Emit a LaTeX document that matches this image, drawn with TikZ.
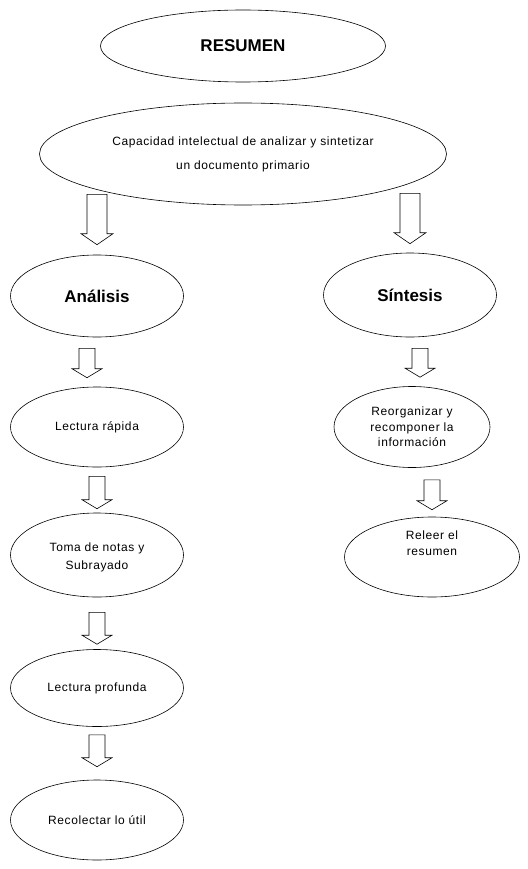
\documentclass[tikz,border=0pt]{standalone}
\usepackage{fontspec}
\setmainfont{Liberation Sans}
\newfontfamily\textoesp{Liberation Sans}[LetterSpace=5]
\usetikzlibrary{shapes.geometric,calc}

\tikzset{
  elipse/.style={draw, ellipse, line width=0.6pt, inner sep=0pt, align=center,
    font=\textoesp\fontsize{12}{15.5}\selectfont},
  titulo/.style={elipse, font=\bfseries\fontsize{17}{20}\selectfont},
  % flecha de bloque: del punto de arriba a la punta
  flecha/.style={draw, line width=0.6pt, to path={
    ($(\tikztostart)+(-8pt,0)$) -- ($(\tikztotarget)+(-8pt,9pt)$)
    -- ($(\tikztotarget)+(-15pt,9pt)$) -- (\tikztotarget)
    -- ($(\tikztotarget)+(15pt,9pt)$) -- ($(\tikztotarget)+(8pt,9pt)$)
    -- ($(\tikztostart)+(8pt,0)$) -- cycle}},
  flecha ancha/.style={draw, line width=0.6pt, to path={
    ($(\tikztostart)+(-10pt,0)$) -- ($(\tikztotarget)+(-10pt,11pt)$)
    -- ($(\tikztotarget)+(-16pt,11pt)$) -- (\tikztotarget)
    -- ($(\tikztotarget)+(16pt,11pt)$) -- ($(\tikztotarget)+(10pt,11pt)$)
    -- ($(\tikztostart)+(10pt,0)$) -- cycle}}
}

\begin{document}
\begin{tikzpicture}[x=1pt, y=-1pt]
\useasboundingbox (0,0) rectangle (527,869);

\node[titulo, minimum width=285pt, minimum height=72pt] (res) at (243,46) {RESUMEN};
\node[elipse, minimum width=407pt, minimum height=102pt,
  font=\textoesp\fontsize{12}{24}\selectfont] (cap) at (243,154)
  {Capacidad intelectual de analizar y sintetizar\\un documento primario};

\node[titulo, minimum width=173pt, minimum height=82pt] (ana) at (97,296) {Análisis};
\node[titulo, minimum width=173pt, minimum height=84pt] (sin) at (410,295) {Síntesis};

\node[elipse, minimum width=173pt, minimum height=80pt] (lec) at (97,427) {Lectura rápida};
\node[elipse, minimum width=173pt, minimum height=84pt,
  font=\textoesp\fontsize{12}{18}\selectfont] (toma) at (97,555) {\\[-4pt]Toma de notas y\\Subrayado};
\node[elipse, minimum width=173pt, minimum height=77pt] (prof) at (97,688) {Lectura profunda};
\node[elipse, minimum width=173pt, minimum height=80pt] (rec) at (97,820) {Recolectar lo útil};

\node[elipse, minimum width=156pt, minimum height=81pt] (reo) at (412,427)
  {Reorganizar y\\recomponer la\\información};
\node[elipse, minimum width=175pt, minimum height=80pt] (rel) at (432,557)
  {Releer el\\resumen\\[12pt]};

\draw[flecha ancha] ([yshift=11pt]ana |- cap.south) to ([yshift=10pt]ana.north);
\draw[flecha ancha] ([yshift=12pt]sin |- cap.south) to ([yshift=9pt]sin.north);

\draw[flecha] ([xshift=-10pt,yshift=-11pt]ana.south) to ([xshift=-10pt,yshift=9pt]lec.north);
\draw[flecha] ([yshift=-9pt]lec.south) to ([yshift=4pt]toma.north);
\draw[flecha] ([yshift=-15pt]toma.south) to ([yshift=5pt]prof.north);
\draw[flecha] ([yshift=-8pt]prof.south) to ([yshift=13pt]rec.north);

\draw[flecha] ([xshift=8pt,yshift=-11pt]reo |- sin.south) to ([xshift=8pt,yshift=9pt]reo.north);
\draw[flecha] ([yshift=-12pt]rel |- reo.south) to ([yshift=7pt]rel.north);
\end{tikzpicture}
\end{document}
